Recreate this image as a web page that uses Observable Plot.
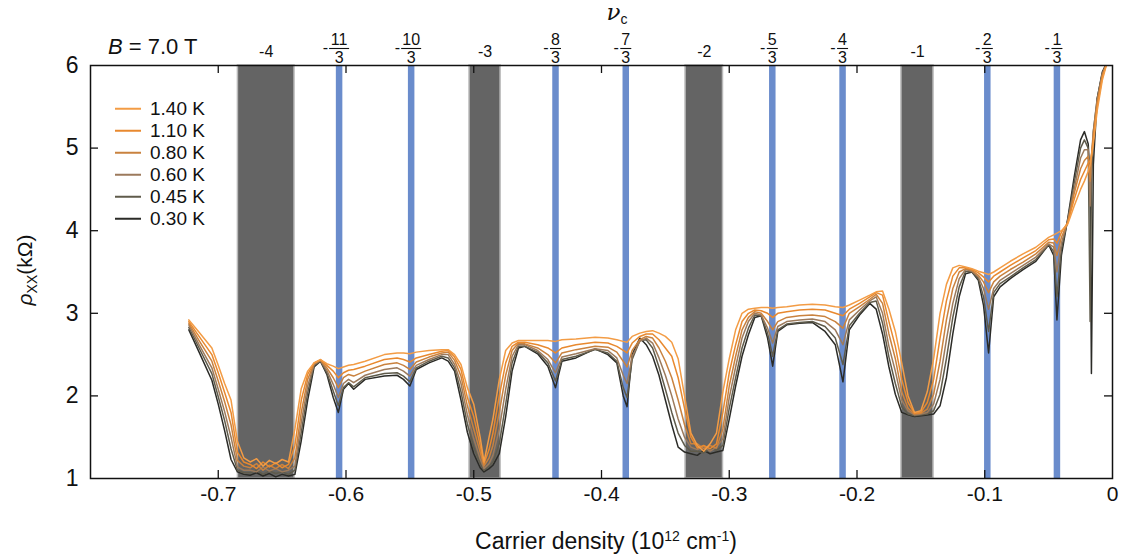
<!DOCTYPE html>
<html><head><meta charset="utf-8">
<script src="https://cdn.jsdelivr.net/npm/d3@7"></script>
<script src="https://cdn.jsdelivr.net/npm/@observablehq/plot@0.6"></script>
<style>
body{margin:0;background:#fff;font-family:"Liberation Sans",Arial,sans-serif;color:#111;}
#wrap{position:relative;width:1122px;height:560px;overflow:hidden;}
.ov{position:absolute;white-space:nowrap;line-height:1;}
.c{transform:translate(-50%,-50%);}
</style></head><body><div id="wrap"></div>
<script>
// ---- data ----
const density = [-0.723,-0.715,-0.705,-0.700,-0.695,-0.690,-0.685,-0.680,-0.675,-0.670,
-0.665,-0.660,-0.655,-0.650,-0.645,-0.640,-0.635,-0.630,-0.625,-0.620,
-0.615,-0.610,-0.606,-0.602,-0.598,-0.594,-0.585,-0.570,-0.560,-0.555,
-0.550,-0.545,-0.535,-0.525,-0.520,-0.515,-0.510,-0.505,-0.500,-0.495,
-0.492,-0.488,-0.485,-0.480,-0.475,-0.470,-0.465,-0.460,-0.450,-0.442,
-0.436,-0.431,-0.420,-0.405,-0.395,-0.388,-0.383,-0.380,-0.376,-0.370,
-0.365,-0.360,-0.355,-0.350,-0.345,-0.340,-0.335,-0.330,-0.325,-0.320,
-0.315,-0.310,-0.305,-0.300,-0.295,-0.290,-0.285,-0.280,-0.275,-0.270,
-0.266,-0.262,-0.255,-0.245,-0.235,-0.225,-0.217,-0.211,-0.206,-0.198,
-0.190,-0.185,-0.180,-0.175,-0.170,-0.165,-0.160,-0.155,-0.150,-0.145,
-0.140,-0.135,-0.130,-0.125,-0.120,-0.115,-0.110,-0.105,-0.101,-0.097,
-0.093,-0.088,-0.080,-0.070,-0.060,-0.050,-0.046,-0.0435,-0.040,-0.035,
-0.030,-0.025,-0.022,-0.019,-0.0175,-0.0165,-0.015,-0.012,-0.008,-0.004,-0.001];

const rho140 = [2.92,2.77,2.58,2.37,2.15,1.95,1.45,1.25,1.20,1.24,
1.15,1.22,1.18,1.23,1.20,1.60,2.09,2.30,2.40,2.44,
2.39,2.36,2.33,2.35,2.37,2.38,2.42,2.50,2.52,2.52,
2.51,2.53,2.55,2.56,2.56,2.50,2.38,2.10,1.90,1.50,
1.20,1.50,1.72,2.20,2.55,2.64,2.67,2.67,2.67,2.67,
2.66,2.68,2.69,2.71,2.70,2.68,2.66,2.65,2.72,2.76,
2.78,2.79,2.76,2.72,2.65,2.45,2.00,1.55,1.40,1.33,
1.42,1.55,2.05,2.45,2.80,3.00,3.05,3.06,3.07,3.07,
3.06,3.07,3.08,3.10,3.11,3.10,3.08,3.07,3.10,3.16,
3.22,3.26,3.27,3.05,2.78,2.40,2.00,1.80,1.82,2.05,
2.45,3.00,3.35,3.55,3.58,3.56,3.54,3.51,3.49,3.47,
3.50,3.55,3.63,3.72,3.80,3.92,3.95,3.97,4.00,4.08,
4.30,4.50,4.60,4.72,4.80,4.90,5.05,5.45,5.82,6.05,6.30];

const rho110 = [2.90,2.72,2.50,2.28,2.04,1.80,1.32,1.20,1.17,1.12,
1.20,1.14,1.19,1.13,1.17,1.40,1.95,2.26,2.40,2.44,
2.37,2.30,2.22,2.28,2.31,2.32,2.36,2.44,2.46,2.44,
2.41,2.46,2.50,2.54,2.55,2.47,2.32,1.98,1.75,1.40,
1.18,1.35,1.55,2.00,2.40,2.60,2.65,2.65,2.62,2.58,
2.52,2.58,2.62,2.65,2.64,2.60,2.55,2.52,2.64,2.72,
2.75,2.75,2.68,2.58,2.48,2.22,1.85,1.50,1.37,1.40,
1.36,1.42,1.80,2.28,2.62,2.90,3.00,3.04,3.03,3.00,
2.95,3.00,3.02,3.04,3.05,3.04,3.00,2.97,3.05,3.12,
3.20,3.25,3.22,2.90,2.60,2.20,1.92,1.79,1.80,1.92,
2.20,2.70,3.15,3.45,3.55,3.55,3.53,3.49,3.44,3.38,
3.45,3.50,3.58,3.67,3.76,3.89,3.90,3.85,3.98,4.10,
4.38,4.62,4.72,4.82,4.85,4.90,5.10,5.50,5.85,6.05,6.30];

const rho080 = [2.88,2.67,2.42,2.18,1.93,1.65,1.22,1.15,1.13,1.18,
1.10,1.16,1.12,1.17,1.12,1.25,1.80,2.20,2.39,2.43,
2.34,2.22,2.10,2.22,2.26,2.24,2.30,2.38,2.40,2.37,
2.32,2.41,2.47,2.52,2.53,2.43,2.24,1.88,1.60,1.32,
1.15,1.25,1.40,1.80,2.25,2.55,2.64,2.63,2.58,2.50,
2.40,2.52,2.56,2.60,2.59,2.53,2.42,2.35,2.55,2.68,
2.72,2.70,2.58,2.42,2.22,1.95,1.65,1.42,1.42,1.36,
1.40,1.37,1.60,2.12,2.48,2.80,2.95,3.02,3.00,2.90,
2.80,2.90,2.95,2.97,2.98,2.96,2.90,2.82,3.00,3.08,
3.17,3.23,3.12,2.75,2.45,2.05,1.85,1.78,1.79,1.84,
2.02,2.42,2.92,3.30,3.50,3.54,3.52,3.46,3.38,3.25,
3.38,3.45,3.53,3.62,3.72,3.86,3.85,3.70,3.92,4.10,
4.45,4.75,4.85,4.90,4.60,4.90,5.15,5.55,5.88,6.05,6.30];

const rho060 = [2.86,2.62,2.34,2.08,1.81,1.50,1.14,1.10,1.10,1.08,
1.14,1.09,1.12,1.08,1.10,1.15,1.68,2.12,2.38,2.43,
2.31,2.14,1.98,2.15,2.20,2.16,2.25,2.32,2.34,2.30,
2.24,2.37,2.44,2.50,2.50,2.38,2.15,1.77,1.48,1.24,
1.12,1.18,1.28,1.60,2.08,2.48,2.62,2.62,2.55,2.44,
2.28,2.47,2.51,2.57,2.55,2.46,2.25,2.15,2.48,2.66,
2.70,2.64,2.46,2.25,2.00,1.72,1.50,1.38,1.35,1.39,
1.33,1.38,1.48,1.98,2.35,2.70,2.90,3.00,2.98,2.82,
2.64,2.84,2.90,2.92,2.93,2.90,2.80,2.62,2.92,3.04,
3.15,3.20,3.00,2.60,2.30,1.95,1.82,1.77,1.78,1.80,
1.90,2.20,2.68,3.12,3.42,3.53,3.51,3.44,3.30,3.05,
3.30,3.40,3.48,3.58,3.68,3.84,3.80,3.50,3.85,4.12,
4.50,4.88,4.98,4.98,4.30,4.90,5.20,5.58,5.90,6.05,6.30];

const rho045 = [2.83,2.58,2.27,1.99,1.70,1.36,1.10,1.07,1.07,1.10,
1.05,1.09,1.06,1.08,1.05,1.10,1.56,2.04,2.37,2.42,
2.28,2.06,1.88,2.10,2.16,2.11,2.22,2.27,2.28,2.24,
2.17,2.34,2.42,2.48,2.46,2.34,2.05,1.66,1.38,1.18,
1.10,1.15,1.20,1.42,1.90,2.40,2.60,2.60,2.53,2.40,
2.18,2.44,2.48,2.56,2.52,2.42,2.10,1.98,2.44,2.67,
2.68,2.58,2.35,2.08,1.80,1.55,1.40,1.33,1.33,1.31,
1.37,1.34,1.40,1.85,2.22,2.58,2.82,2.98,2.97,2.76,
2.48,2.80,2.87,2.89,2.90,2.84,2.70,2.38,2.85,3.00,
3.13,3.15,2.88,2.47,2.15,1.87,1.78,1.76,1.77,1.78,
1.82,2.02,2.45,2.95,3.32,3.51,3.50,3.42,3.20,2.78,
3.25,3.36,3.44,3.55,3.65,3.83,3.75,3.20,3.78,4.13,
4.58,5.00,5.10,5.00,2.90,4.50,5.20,5.60,5.90,6.05,6.30];

const rho030 = [2.80,2.53,2.19,1.90,1.58,1.23,1.08,1.05,1.04,1.07,
1.03,1.06,1.02,1.05,1.03,1.05,1.46,1.95,2.35,2.42,
2.26,1.98,1.80,2.08,2.15,2.08,2.20,2.24,2.25,2.20,
2.12,2.32,2.40,2.46,2.42,2.30,1.95,1.56,1.30,1.13,
1.08,1.12,1.16,1.30,1.75,2.30,2.58,2.60,2.51,2.36,
2.10,2.42,2.46,2.57,2.50,2.40,2.00,1.87,2.50,2.70,
2.62,2.48,2.25,1.95,1.65,1.38,1.32,1.30,1.28,1.34,
1.30,1.32,1.34,1.72,2.12,2.48,2.74,2.95,2.97,2.70,
2.36,2.78,2.86,2.88,2.89,2.78,2.62,2.17,2.80,2.98,
3.12,3.05,2.75,2.35,2.02,1.80,1.77,1.75,1.76,1.77,
1.78,1.88,2.22,2.75,3.20,3.48,3.50,3.40,3.10,2.52,
3.20,3.32,3.42,3.53,3.63,3.83,3.70,2.92,3.70,4.15,
4.65,5.10,5.20,5.05,4.60,2.27,4.80,5.60,5.92,6.05,6.30];

const tempLabels = ["1.40 K","1.10 K","0.80 K","0.60 K","0.45 K","0.30 K"];
const tempColors = ["#f39c45","#e8892f","#c9823f","#9c7a5c","#5f5b4b","#2b2b27"];
const seriesValues = [rho140, rho110, rho080, rho060, rho045, rho030];

const intLabels = ["-4","-3","-2","-1"];
const bandLo = [-0.6846,-0.5033,-0.3342,-0.1652];
const bandHi = [-0.6403,-0.4790,-0.3049,-0.1401];

const fracNum = ["11","10","8","7","5","4","2","1"];
const fracDen = ["3","3","3","3","3","3","3","3"];
const fracPos = [-0.6054,-0.5490,-0.4360,-0.3810,-0.2663,-0.2113,-0.0980,-0.0435];

const xTicks = [-0.7,-0.6,-0.5,-0.4,-0.3,-0.2,-0.1,0];
const yTicks = [1,2,3,4,5,6];
const xDomain = [-0.8, 0];
const yDomain = [1, 6];

// ---- build ----
const W = 1122, H = 560, mL = 90, mR = 10, mT = 65, mB = 82;
const fw = W - mL - mR, fh = H - mT - mB;

const rows = [];
for (let s = seriesValues.length - 1; s >= 0; s--) {
  seriesValues[s].forEach((v, i) => rows.push({x: density[i], y: v, T: tempLabels[s]}));
}
const bands = intLabels.map((t, i) => ({t, lo: bandLo[i], hi: bandHi[i], mid: (bandLo[i] + bandHi[i]) / 2}));
const fracs = fracNum.map((n, i) => ({n, d: fracDen[i], pos: fracPos[i]}));
const barSym = {draw(ctx, size) { const r = Math.sqrt(size / Math.PI); ctx.moveTo(-r, 0); ctx.lineTo(r, 0); }};
const topText = {frameAnchor: "top", lineAnchor: "middle", fontSize: 16, fill: "#111"};

const plot = Plot.plot({
  width: W, height: H, marginLeft: mL, marginRight: mR, marginTop: mT, marginBottom: mB,
  x: {domain: xDomain, nice: false},
  y: {domain: yDomain, nice: false},
  color: {domain: tempLabels, range: tempColors},
  style: {fontFamily: "Liberation Sans, Arial, sans-serif", color: "#111", background: "#fff", overflow: "visible"},
  marks: [
    Plot.rect(bands, {x1: "lo", x2: "hi", fill: "#646464", stroke: "#b8b8b8", strokeWidth: 1.5}),
    Plot.ruleX(fracs, {x: "pos", stroke: "#6a8ccc", strokeWidth: 6.5}),
    Plot.line(rows, {x: "x", y: "y", z: "T", stroke: "T", strokeWidth: 1.5, clip: true, curve: "linear"}),
    Plot.frame({stroke: "#111", strokeWidth: 1.5}),
    Plot.tickX(xTicks.filter(d => d > xDomain[0] && d < xDomain[1]), {x: d => d, insetTop: fh - 8, stroke: "#111", strokeWidth: 1.3}),
    Plot.tickX(xTicks.filter(d => d > xDomain[0] && d < xDomain[1]), {x: d => d, insetBottom: fh - 8, stroke: "#111", strokeWidth: 1.3}),
    Plot.tickY(yTicks.filter(d => d > yDomain[0] && d < yDomain[1]), {y: d => d, insetRight: fw - 8, stroke: "#111", strokeWidth: 1.3}),
    Plot.tickY(yTicks.filter(d => d > yDomain[0] && d < yDomain[1]), {y: d => d, insetLeft: fw - 8, stroke: "#111", strokeWidth: 1.3}),
    Plot.axisX({ticks: xTicks, tickSize: 0, tickPadding: 8, fontSize: 21, label: null,
      tickFormat: d => d === 0 ? "0" : d.toFixed(1)}),
    Plot.axisY({ticks: yTicks, tickSize: 0, tickPadding: 12, fontSize: 23, label: null, tickFormat: d => String(d)}),
    Plot.text(bands, {x: "mid", text: "t", dy: -14, ...topText}),
    Plot.text(fracs, {x: "pos", text: "n", dy: -26, ...topText}),
    Plot.text(fracs, {x: "pos", text: "d", dy: -8, ...topText}),
    Plot.dot(fracs.filter(d => d.n.length > 1), {x: "pos", frameAnchor: "top", dy: -17, symbol: barSym, r: 10, stroke: "#111", strokeWidth: 1.1, fill: "none"}),
    Plot.dot(fracs.filter(d => d.n.length === 1), {x: "pos", frameAnchor: "top", dy: -17, symbol: barSym, r: 5.5, stroke: "#111", strokeWidth: 1.1, fill: "none"}),
    Plot.text(fracs.filter(d => d.n.length > 1), {x: "pos", text: () => "-", dy: -18, dx: -11, textAnchor: "end", ...topText}),
    Plot.text(fracs.filter(d => d.n.length === 1), {x: "pos", text: () => "-", dy: -18, dx: -7, textAnchor: "end", ...topText})
  ]
});

const wrap = document.getElementById("wrap");
wrap.appendChild(plot);

function ov(html, css, cls) {
  const d = document.createElement("div");
  d.className = "ov " + (cls || "");
  d.innerHTML = html;
  Object.assign(d.style, css);
  wrap.appendChild(d);
  return d;
}
// top axis title
ov('<span style="font-family:\'DejaVu Serif\',\'Liberation Serif\',serif;font-style:italic;font-size:23px">ν</span><sub style="font-size:14px;vertical-align:-4px">c</sub>',
   {left: "617px", top: "13px"}, "c");
// field annotation
ov('<i>B</i> = 7.0 T', {left: "108px", top: "47px", fontSize: "22px", transform: "translateY(-50%)"});
// y label
ov('<i>ρ</i><sub style="font-size:14px;vertical-align:-5px">XX</sub>(kΩ)',
   {left: "26px", top: "270px", fontSize: "21px", transform: "translate(-50%,-50%) rotate(-90deg)"});
// x label
ov('Carrier density (10<sup style="font-size:14px;vertical-align:8px">12</sup> cm<sup style="font-size:14px;vertical-align:8px">-1</sup>)',
   {left: "606px", top: "541px", fontSize: "23px"}, "c");
// legend
tempLabels.forEach((t, i) => {
  ov(`<svg width="26" height="4" style="vertical-align:middle;margin-right:9px"><line x1="0" y1="2" x2="26" y2="2" stroke="${tempColors[i]}" stroke-width="2"/></svg><span style="vertical-align:middle">${t}</span>`,
     {left: "115px", top: (108 + 22 * i) + "px", fontSize: "19px", lineHeight: "19px", transform: "translateY(-50%)"});
});
</script>
</body></html>
